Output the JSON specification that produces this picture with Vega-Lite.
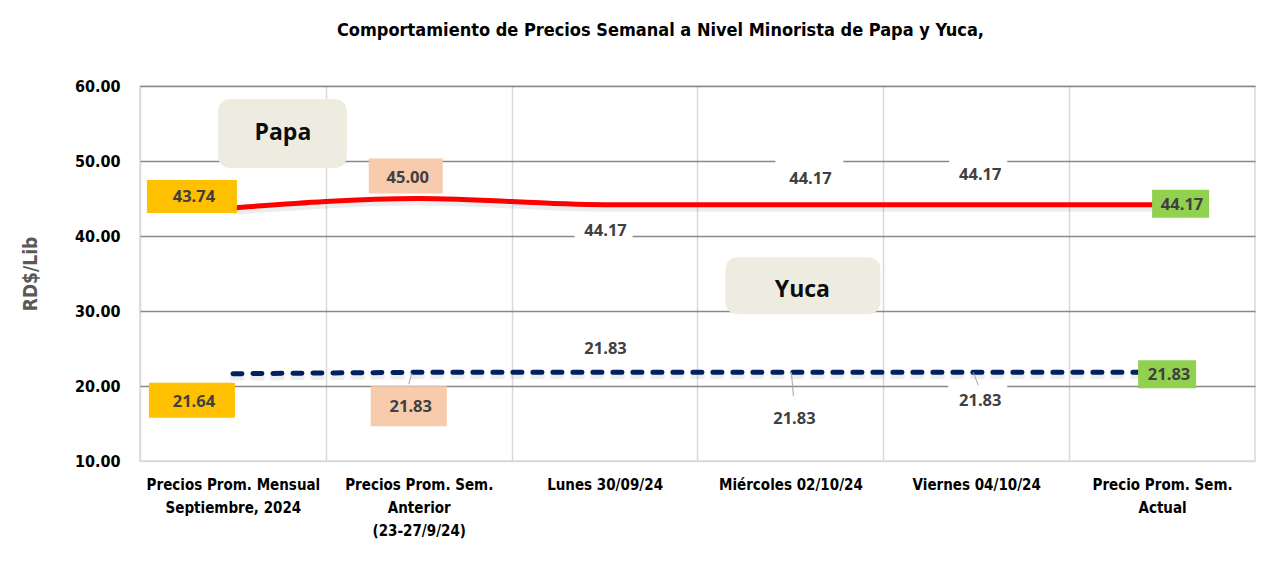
{
 "$schema": "https://vega.github.io/schema/vega-lite/v6.json",
 "width": 1115, "height": 375,
 "autosize": {"type": "none"},
 "padding": {"left": 140, "top": 86, "right": 33, "bottom": 112},
 "background": "#ffffff",
 "title": {"text": "Comportamiento de Precios Semanal a Nivel Minorista de Papa y Yuca,", "font": "DejaVu Sans Condensed, sans-serif", "fontSize": 18, "fontWeight": "bold", "color": "#000000", "frame": "group", "anchor": "middle", "dx": -37, "offset": 38},
 "config": {"view": {"stroke": "#d9d9d9", "strokeWidth": 1.5}},
 "datasets": {"precios": [
  {"producto": "Papa", "n": 1, "cat": "Precios Prom. Mensual|Septiembre, 2024", "precio": 43.74},
  {"producto": "Papa", "n": 2, "cat": "Precios Prom. Sem.|Anterior|(23-27/9/24)", "precio": 45.00},
  {"producto": "Papa", "n": 3, "cat": "Lunes  30/09/24", "precio": 44.17},
  {"producto": "Papa", "n": 4, "cat": "Miércoles 02/10/24", "precio": 44.17},
  {"producto": "Papa", "n": 5, "cat": "Viernes 04/10/24", "precio": 44.17},
  {"producto": "Papa", "n": 6, "cat": "Precio Prom. Sem.|Actual", "precio": 44.17},
  {"producto": "Yuca", "n": 1, "cat": "Precios Prom. Mensual|Septiembre, 2024", "precio": 21.64},
  {"producto": "Yuca", "n": 2, "cat": "Precios Prom. Sem.|Anterior|(23-27/9/24)", "precio": 21.83},
  {"producto": "Yuca", "n": 3, "cat": "Lunes  30/09/24", "precio": 21.83},
  {"producto": "Yuca", "n": 4, "cat": "Miércoles 02/10/24", "precio": 21.83},
  {"producto": "Yuca", "n": 5, "cat": "Viernes 04/10/24", "precio": 21.83},
  {"producto": "Yuca", "n": 6, "cat": "Precio Prom. Sem.|Actual", "precio": 21.83}
 ]},
 "data": {"name": "precios"},
 "layer": [
  {"transform": [{"filter": "datum.producto==='Papa'"}],
   "mark": {"type": "line", "interpolate": "monotone", "color": "#000000", "opacity": 0.07, "strokeWidth": 6, "yOffset": 4},
   "encoding": {"x": {"field": "cat", "type": "ordinal"}, "y": {"field": "precio", "type": "quantitative"}, "order": {"field": "n"}}},
  {"transform": [{"filter": "datum.producto==='Papa'"}],
   "mark": {"type": "line", "interpolate": "monotone", "color": "#ff0000", "strokeWidth": 5},
   "encoding": {
    "x": {"field": "cat", "type": "ordinal",
     "scale": {"type": "point", "padding": 0.5, "domain": ["Precios Prom. Mensual|Septiembre, 2024", "Precios Prom. Sem.|Anterior|(23-27/9/24)", "Lunes  30/09/24", "Miércoles 02/10/24", "Viernes 04/10/24", "Precio Prom. Sem.|Actual"]},
     "axis": {"title": null, "domain": false, "ticks": false, "grid": true, "gridColor": "#d9d9d9", "gridWidth": 1.5, "tickOffset": -92.92, "labelOffset": 92.92, "labelExpr": "split(datum.value,'|')", "labelFont": "DejaVu Sans Condensed, sans-serif", "labelFontSize": 15, "labelFontWeight": "bold", "labelColor": "#000000", "labelPadding": 16, "labelLineHeight": 23, "labelAngle": 0, "labelAlign": "center", "labelLimit": 300, "labelBaseline": "top", "labelOverlap": false}},
    "y": {"field": "precio", "type": "quantitative",
     "scale": {"domain": [10, 60], "nice": false, "zero": false},
     "axis": {"values": [10, 20, 30, 40, 50, 60], "format": ".2f", "domain": false, "ticks": false, "labelFont": "DejaVu Sans Condensed, sans-serif", "labelFontSize": 16, "labelFontWeight": "bold", "labelColor": "#000000", "labelPadding": 20, "title": "RD$/Lib", "titleFont": "DejaVu Sans Condensed, sans-serif", "titleFontSize": 19, "titleFontWeight": "bold", "titleColor": "#595959", "titlePadding": 34, "gridColor": {"condition": {"test": "datum.value===10", "value": "#d9d9d9"}, "value": "#898989"}, "gridWidth": 1.5}},
    "order": {"field": "n"}}},
  {"transform": [{"filter": "datum.producto==='Yuca'"}],
   "mark": {"type": "line", "color": "#000000", "opacity": 0.07, "strokeWidth": 6, "strokeDash": [9, 11], "strokeCap": "round", "yOffset": 4},
   "encoding": {"x": {"field": "cat", "type": "ordinal"}, "y": {"field": "precio", "type": "quantitative"}, "order": {"field": "n"}}},
  {"transform": [{"filter": "datum.producto==='Yuca'"}],
   "mark": {"type": "line", "color": "#002060", "strokeWidth": 5, "strokeDash": [9, 11], "strokeCap": "round"},
   "encoding": {"x": {"field": "cat", "type": "ordinal"}, "y": {"field": "precio", "type": "quantitative"}, "order": {"field": "n"}}},

  {"transform": [{"filter": "datum.producto==='Papa' && datum.n===1"}],
   "mark": {"type": "rect", "color": "#ffc000", "xOffset": -86, "x2Offset": 4, "yOffset": -28, "y2Offset": 5},
   "encoding": {"x": {"field": "cat", "type": "ordinal"}, "x2": {"field": "cat"}, "y": {"field": "precio", "type": "quantitative"}, "y2": {"field": "precio"}}},
  {"transform": [{"filter": "datum.producto==='Papa' && datum.n===2"}],
   "mark": {"type": "rect", "color": "#f8cbad", "xOffset": -50, "x2Offset": 24, "yOffset": -40, "y2Offset": -5},
   "encoding": {"x": {"field": "cat", "type": "ordinal"}, "x2": {"field": "cat"}, "y": {"field": "precio", "type": "quantitative"}, "y2": {"field": "precio"}}},
  {"transform": [{"filter": "datum.producto==='Papa' && datum.n===3"}],
   "mark": {"type": "rect", "color": "#ffffff", "xOffset": -30, "x2Offset": 28, "yOffset": 17, "y2Offset": 36},
   "encoding": {"x": {"field": "cat", "type": "ordinal"}, "x2": {"field": "cat"}, "y": {"field": "precio", "type": "quantitative"}, "y2": {"field": "precio"}}},
  {"transform": [{"filter": "datum.producto==='Papa' && datum.n===4"}],
   "mark": {"type": "rect", "color": "#ffffff", "xOffset": -15, "x2Offset": 53, "yOffset": -48, "y2Offset": -15},
   "encoding": {"x": {"field": "cat", "type": "ordinal"}, "x2": {"field": "cat"}, "y": {"field": "precio", "type": "quantitative"}, "y2": {"field": "precio"}}},
  {"transform": [{"filter": "datum.producto==='Papa' && datum.n===5"}],
   "mark": {"type": "rect", "color": "#ffffff", "xOffset": -27, "x2Offset": 31, "yOffset": -47, "y2Offset": -17},
   "encoding": {"x": {"field": "cat", "type": "ordinal"}, "x2": {"field": "cat"}, "y": {"field": "precio", "type": "quantitative"}, "y2": {"field": "precio"}}},
  {"transform": [{"filter": "datum.producto==='Papa' && datum.n===6"}],
   "mark": {"type": "rect", "color": "#92d050", "xOffset": -10, "x2Offset": 47, "yOffset": -15, "y2Offset": 13},
   "encoding": {"x": {"field": "cat", "type": "ordinal"}, "x2": {"field": "cat"}, "y": {"field": "precio", "type": "quantitative"}, "y2": {"field": "precio"}}},

  {"transform": [{"filter": "datum.producto==='Yuca' && datum.n===1"}],
   "mark": {"type": "rect", "color": "#ffc000", "xOffset": -84, "x2Offset": 2, "yOffset": 9, "y2Offset": 44},
   "encoding": {"x": {"field": "cat", "type": "ordinal"}, "x2": {"field": "cat"}, "y": {"field": "precio", "type": "quantitative"}, "y2": {"field": "precio"}}},
  {"transform": [{"filter": "datum.producto==='Yuca' && datum.n===2"}],
   "mark": {"type": "rect", "color": "#f8cbad", "xOffset": -48, "x2Offset": 28, "yOffset": 14, "y2Offset": 54},
   "encoding": {"x": {"field": "cat", "type": "ordinal"}, "x2": {"field": "cat"}, "y": {"field": "precio", "type": "quantitative"}, "y2": {"field": "precio"}}},
  {"transform": [{"filter": "datum.producto==='Yuca' && datum.n===5"}],
   "mark": {"type": "rect", "color": "#ffffff", "xOffset": -28, "x2Offset": 31, "yOffset": 12, "y2Offset": 46},
   "encoding": {"x": {"field": "cat", "type": "ordinal"}, "x2": {"field": "cat"}, "y": {"field": "precio", "type": "quantitative"}, "y2": {"field": "precio"}}},
  {"transform": [{"filter": "datum.producto==='Yuca' && datum.n===6"}],
   "mark": {"type": "rect", "color": "#92d050", "xOffset": -24, "x2Offset": 34, "yOffset": -12, "y2Offset": 16},
   "encoding": {"x": {"field": "cat", "type": "ordinal"}, "x2": {"field": "cat"}, "y": {"field": "precio", "type": "quantitative"}, "y2": {"field": "precio"}}},

  {"transform": [{"filter": "datum.producto==='Yuca' && datum.n===2"}],
   "mark": {"type": "rule", "color": "#a6a6a6", "strokeWidth": 1, "xOffset": -7, "x2Offset": -10, "yOffset": 1, "y2Offset": 12},
   "encoding": {"x": {"field": "cat", "type": "ordinal"}, "x2": {"field": "cat"}, "y": {"field": "precio", "type": "quantitative"}, "y2": {"field": "precio"}}},
  {"transform": [{"filter": "datum.producto==='Yuca' && datum.n===4"}],
   "mark": {"type": "rule", "color": "#a6a6a6", "strokeWidth": 1, "xOffset": 1, "x2Offset": 3, "yOffset": 0, "y2Offset": 24},
   "encoding": {"x": {"field": "cat", "type": "ordinal"}, "x2": {"field": "cat"}, "y": {"field": "precio", "type": "quantitative"}, "y2": {"field": "precio"}}},
  {"transform": [{"filter": "datum.producto==='Yuca' && datum.n===5"}],
   "mark": {"type": "rule", "color": "#a6a6a6", "strokeWidth": 1, "xOffset": -3, "x2Offset": 2, "yOffset": 0, "y2Offset": 13},
   "encoding": {"x": {"field": "cat", "type": "ordinal"}, "x2": {"field": "cat"}, "y": {"field": "precio", "type": "quantitative"}, "y2": {"field": "precio"}}},

  {"transform": [{"filter": "datum.producto==='Papa' && datum.n===1"}],
   "mark": {"type": "text", "font": "Open Sans", "fontSize": 16.5, "fontWeight": "bold", "color": "#404040", "dx": -39, "dy": -11},
   "encoding": {"x": {"field": "cat", "type": "ordinal"}, "y": {"field": "precio", "type": "quantitative"}, "text": {"field": "precio", "type": "quantitative", "format": ".2f"}}},
  {"transform": [{"filter": "datum.producto==='Papa' && datum.n===2"}],
   "mark": {"type": "text", "font": "Open Sans", "fontSize": 16.5, "fontWeight": "bold", "color": "#404040", "dx": -11, "dy": -21},
   "encoding": {"x": {"field": "cat", "type": "ordinal"}, "y": {"field": "precio", "type": "quantitative"}, "text": {"field": "precio", "type": "quantitative", "format": ".2f"}}},
  {"transform": [{"filter": "datum.producto==='Papa' && datum.n===3"}],
   "mark": {"type": "text", "font": "Open Sans", "fontSize": 16.5, "fontWeight": "bold", "color": "#404040", "dx": 1, "dy": 26},
   "encoding": {"x": {"field": "cat", "type": "ordinal"}, "y": {"field": "precio", "type": "quantitative"}, "text": {"field": "precio", "type": "quantitative", "format": ".2f"}}},
  {"transform": [{"filter": "datum.producto==='Papa' && datum.n===4"}],
   "mark": {"type": "text", "font": "Open Sans", "fontSize": 16.5, "fontWeight": "bold", "color": "#404040", "dx": 20, "dy": -26},
   "encoding": {"x": {"field": "cat", "type": "ordinal"}, "y": {"field": "precio", "type": "quantitative"}, "text": {"field": "precio", "type": "quantitative", "format": ".2f"}}},
  {"transform": [{"filter": "datum.producto==='Papa' && datum.n===5"}],
   "mark": {"type": "text", "font": "Open Sans", "fontSize": 16.5, "fontWeight": "bold", "color": "#404040", "dx": 4, "dy": -30},
   "encoding": {"x": {"field": "cat", "type": "ordinal"}, "y": {"field": "precio", "type": "quantitative"}, "text": {"field": "precio", "type": "quantitative", "format": ".2f"}}},
  {"transform": [{"filter": "datum.producto==='Papa' && datum.n===6"}],
   "mark": {"type": "text", "font": "Open Sans", "fontSize": 16.5, "fontWeight": "bold", "color": "#404040", "dx": 20, "dy": 0},
   "encoding": {"x": {"field": "cat", "type": "ordinal"}, "y": {"field": "precio", "type": "quantitative"}, "text": {"field": "precio", "type": "quantitative", "format": ".2f"}}},

  {"transform": [{"filter": "datum.producto==='Yuca' && datum.n===1"}],
   "mark": {"type": "text", "font": "Open Sans", "fontSize": 16.5, "fontWeight": "bold", "color": "#404040", "dx": -39, "dy": 28},
   "encoding": {"x": {"field": "cat", "type": "ordinal"}, "y": {"field": "precio", "type": "quantitative"}, "text": {"field": "precio", "type": "quantitative", "format": ".2f"}}},
  {"transform": [{"filter": "datum.producto==='Yuca' && datum.n===2"}],
   "mark": {"type": "text", "font": "Open Sans", "fontSize": 16.5, "fontWeight": "bold", "color": "#404040", "dx": -8, "dy": 35},
   "encoding": {"x": {"field": "cat", "type": "ordinal"}, "y": {"field": "precio", "type": "quantitative"}, "text": {"field": "precio", "type": "quantitative", "format": ".2f"}}},
  {"transform": [{"filter": "datum.producto==='Yuca' && datum.n===3"}],
   "mark": {"type": "text", "font": "Open Sans", "fontSize": 16.5, "fontWeight": "bold", "color": "#404040", "dx": 1, "dy": -23},
   "encoding": {"x": {"field": "cat", "type": "ordinal"}, "y": {"field": "precio", "type": "quantitative"}, "text": {"field": "precio", "type": "quantitative", "format": ".2f"}}},
  {"transform": [{"filter": "datum.producto==='Yuca' && datum.n===4"}],
   "mark": {"type": "text", "font": "Open Sans", "fontSize": 16.5, "fontWeight": "bold", "color": "#404040", "dx": 4, "dy": 47},
   "encoding": {"x": {"field": "cat", "type": "ordinal"}, "y": {"field": "precio", "type": "quantitative"}, "text": {"field": "precio", "type": "quantitative", "format": ".2f"}}},
  {"transform": [{"filter": "datum.producto==='Yuca' && datum.n===5"}],
   "mark": {"type": "text", "font": "Open Sans", "fontSize": 16.5, "fontWeight": "bold", "color": "#404040", "dx": 4, "dy": 29},
   "encoding": {"x": {"field": "cat", "type": "ordinal"}, "y": {"field": "precio", "type": "quantitative"}, "text": {"field": "precio", "type": "quantitative", "format": ".2f"}}},
  {"transform": [{"filter": "datum.producto==='Yuca' && datum.n===6"}],
   "mark": {"type": "text", "font": "Open Sans", "fontSize": 16.5, "fontWeight": "bold", "color": "#404040", "dx": 7, "dy": 3},
   "encoding": {"x": {"field": "cat", "type": "ordinal"}, "y": {"field": "precio", "type": "quantitative"}, "text": {"field": "precio", "type": "quantitative", "format": ".2f"}}},

  {"transform": [{"filter": "datum.producto==='Papa' && datum.n===1"}],
   "mark": {"type": "rect", "color": "#eeece1", "cornerRadius": 12, "xOffset": -15, "x2Offset": 114, "yOffset": -109, "y2Offset": -40},
   "encoding": {"x": {"field": "cat", "type": "ordinal"}, "x2": {"field": "cat"}, "y": {"field": "precio", "type": "quantitative"}, "y2": {"field": "precio"}}},
  {"transform": [{"filter": "datum.producto==='Papa' && datum.n===1"}],
   "mark": {"type": "text", "font": "Open Sans", "fontSize": 23, "fontWeight": "bold", "color": "#0d0d0d", "dx": 50, "dy": -75},
   "encoding": {"x": {"field": "cat", "type": "ordinal"}, "y": {"field": "precio", "type": "quantitative"}, "text": {"field": "producto"}}},
  {"transform": [{"filter": "datum.producto==='Yuca' && datum.n===4"}],
   "mark": {"type": "rect", "color": "#eeece1", "cornerRadius": 12, "xOffset": -65, "x2Offset": 90, "yOffset": -115, "y2Offset": -58},
   "encoding": {"x": {"field": "cat", "type": "ordinal"}, "x2": {"field": "cat"}, "y": {"field": "precio", "type": "quantitative"}, "y2": {"field": "precio"}}},
  {"transform": [{"filter": "datum.producto==='Yuca' && datum.n===4"}],
   "mark": {"type": "text", "font": "Open Sans", "fontSize": 23, "fontWeight": "bold", "color": "#0d0d0d", "dx": 12, "dy": -82},
   "encoding": {"x": {"field": "cat", "type": "ordinal"}, "y": {"field": "precio", "type": "quantitative"}, "text": {"field": "producto"}}}
 ]
}
